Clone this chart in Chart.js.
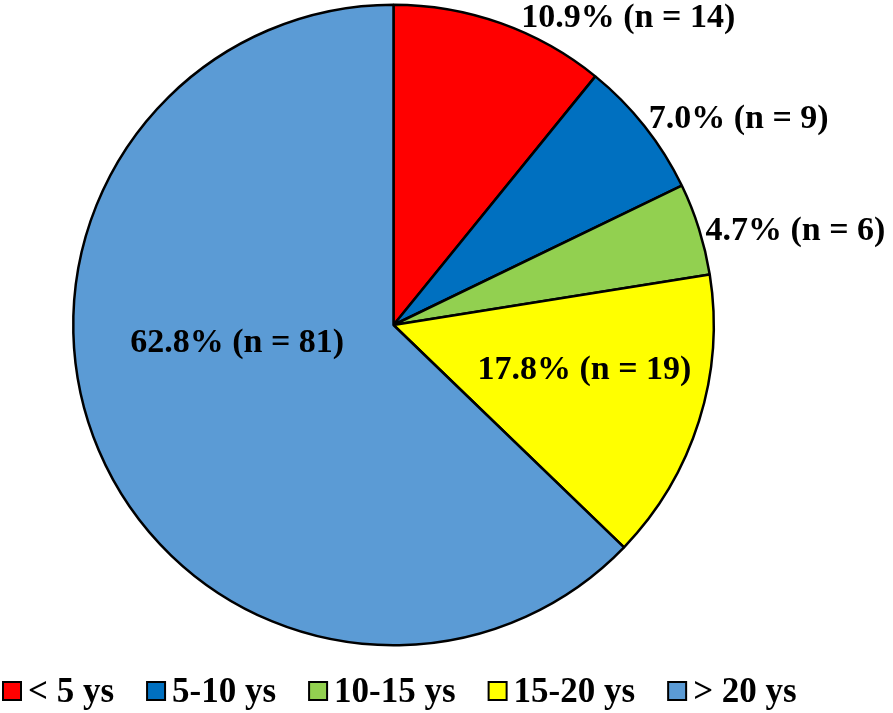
<!DOCTYPE html>
<html lang="en">
<head>
    <meta charset="UTF-8">
    <title>Years pie</title>
    <script src="https://cdn.jsdelivr.net/npm/chart.js"></script>
    <style>
        html, body { margin: 0; padding: 0; background: #fff; }
        .wrap { width: 893px; height: 713px; position: relative; }
    </style>
</head>
<body>
<div class="wrap">
    <canvas id="pieChart"></canvas>
</div>
<script>
// data
const categories = ['< 5 ys', '5-10 ys', '10-15 ys', '15-20 ys', '> 20 ys'];
const counts = [14, 9, 6, 19, 81];
const pctLabels = ['10.9%', '7.0%', '4.7%', '17.8%', '62.8%'];
const sliceColors = ['#ff0000', '#0070c0', '#92d050', '#ffff00', '#5b9bd5'];

// label placement, as fractions of the radius from the pie centre
const labelPos = [
    [0.733, -0.929],
    [1.078, -0.615],
    [1.255, -0.264],
    [0.596, 0.168],
    [-0.488, 0.084]
];

const FONT = 'bold 34px "Liberation Serif", "Times New Roman", serif';
const LEGEND_FONT = 'bold 35px "Liberation Serif", "Times New Roman", serif';

const sliceLabels = {
    id: 'sliceLabels',
    afterDatasetsDraw(chart) {
        const ctx = chart.ctx;
        const arcs = chart.getDatasetMeta(0).data;
        ctx.save();
        ctx.font = FONT;
        ctx.fillStyle = '#000';
        ctx.textAlign = 'center';
        ctx.textBaseline = 'alphabetic';
        arcs.forEach((arc, i) => {
            const p = arc.getProps(['x', 'y', 'outerRadius'], true);
            const tx = p.x + labelPos[i][0] * p.outerRadius;
            const ty = p.y + labelPos[i][1] * p.outerRadius;
            ctx.fillText(pctLabels[i] + ' (n = ' + counts[i] + ')', tx, ty);
        });
        ctx.restore();
    }
};

// legend drawn by hand so it can span the full width under the pie
const bottomLegend = {
    id: 'bottomLegend',
    afterDraw(chart) {
        const ctx = chart.ctx;
        const box = 18, gapText = 7, gapItem = 33;
        const baseY = chart.height - 11;
        let x = 3;
        ctx.save();
        ctx.font = LEGEND_FONT;
        ctx.textBaseline = 'alphabetic';
        ctx.textAlign = 'left';
        chart.data.labels.forEach((lab, i) => {
            ctx.fillStyle = chart.data.datasets[0].backgroundColor[i];
            ctx.fillRect(x, baseY - 20, box, box);
            ctx.strokeStyle = '#000';
            ctx.lineWidth = 2;
            ctx.strokeRect(x, baseY - 20, box, box);
            x += box + gapText;
            ctx.fillStyle = '#000';
            ctx.fillText(lab, x, baseY);
            x += ctx.measureText(lab).width + gapItem;
        });
        ctx.restore();
    }
};

new Chart(document.getElementById('pieChart'), {
    type: 'pie',
    data: {
        labels: categories,
        datasets: [{
            data: counts,
            backgroundColor: sliceColors,
            borderColor: '#000',
            borderWidth: 2.5
        }]
    },
    options: {
        responsive: true,
        maintainAspectRatio: false,
        animation: false,
        layout: {
            padding: { left: 72, right: 178, top: 2, bottom: 65 }
        },
        plugins: {
            legend: { display: false },
            tooltip: { enabled: false }
        }
    },
    plugins: [sliceLabels, bottomLegend]
});
</script>
</body>
</html>
